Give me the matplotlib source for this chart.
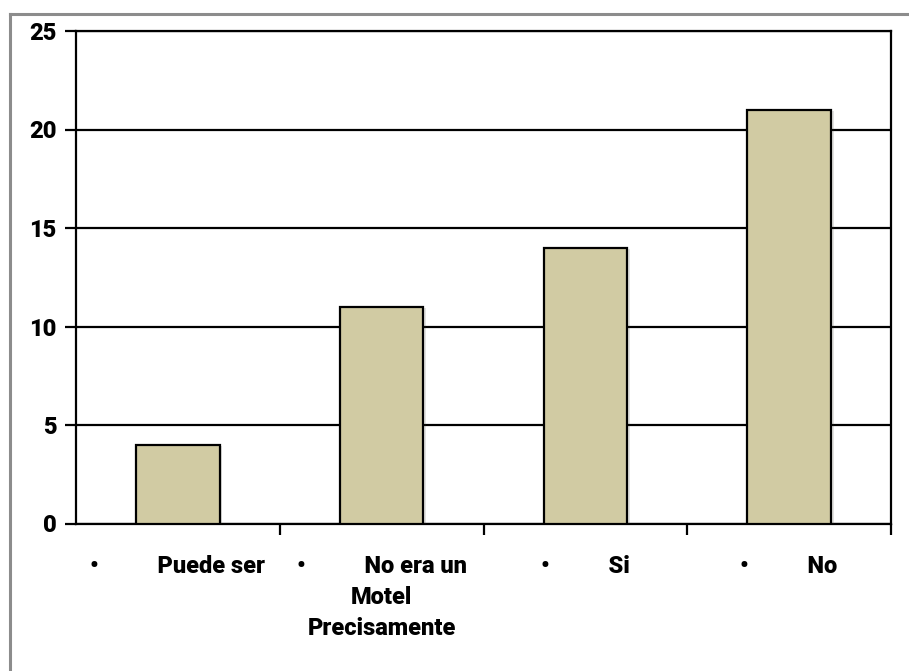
import matplotlib.pyplot as plt
from matplotlib.lines import Line2D
import matplotlib.patheffects as pe

# --- data ---
categories = ['Puede ser', 'No era un\nMotel\nPrecisamente', 'Si', 'No']
values = [4, 11, 14, 21]
y_ticks = [0, 5, 10, 15, 20, 25]

BAR_COLOR = '#D1CBA3'
FONT = 'Roboto'
WEIGHT = 'heavy'

plt.rcParams['font.family'] = [FONT, 'DejaVu Sans']
plt.rcParams['font.weight'] = WEIGHT

fig = plt.figure(figsize=(9.09, 6.71), dpi=100)
ax = fig.add_axes([76 / 909, 1 - 523.5 / 671, (891 - 76) / 909, (523.5 - 31) / 671])

# gray outer frame (only top and left edges are visible in the picture)
fig.add_artist(Line2D([9.5 / 909, 1.0], [1 - 13.5 / 671, 1 - 13.5 / 671],
                      transform=fig.transFigure, color='#8c8c8c', lw=2.2))
fig.add_artist(Line2D([9.5 / 909, 9.5 / 909], [0.0, 1 - 13.5 / 671],
                      transform=fig.transFigure, color='#8c8c8c', lw=2.2))

x = list(range(len(values)))
bars = ax.bar(x, values, width=0.41, color=BAR_COLOR, edgecolor='black',
              linewidth=1.6, zorder=3)
for b in bars:
    b.set_path_effects([pe.SimplePatchShadow(offset=(2, -1), alpha=0.15),
                        pe.Normal()])

ax.set_xlim(-0.5, len(values) - 0.5)
ax.set_ylim(0, 25)
ax.set_yticks(y_ticks)
ax.yaxis.grid(True, color='black', linewidth=1.6, zorder=0)
ax.set_axisbelow(True)

# category ticks sit on the boundaries, labels in the middle
ax.set_xticks([i + 0.5 for i in x])
ax.set_xticklabels([])
ax.set_xticks(x, minor=True)
labels = []
for c in categories:
    first, *rest = c.split('\n')
    labels.append('\n'.join(['\u2022          ' + first] + rest))
ax.set_xticklabels(labels, minor=True, fontsize=17, fontweight=WEIGHT,
                   linespacing=1.44, ha='center', multialignment='center')
ax.tick_params(axis='x', which='major', direction='out', length=8, width=1.6)
ax.tick_params(axis='x', which='minor', length=0, pad=23)
ax.tick_params(axis='y', direction='out', length=8, width=1.6, pad=6,
               labelsize=17)
for lab in ax.get_yticklabels():
    lab.set_fontweight(WEIGHT)

for side in ['left', 'right', 'top', 'bottom']:
    ax.spines[side].set_linewidth(1.6)
    ax.spines[side].set_color('black')

fig.savefig('out.png', dpi=100, facecolor='white')
